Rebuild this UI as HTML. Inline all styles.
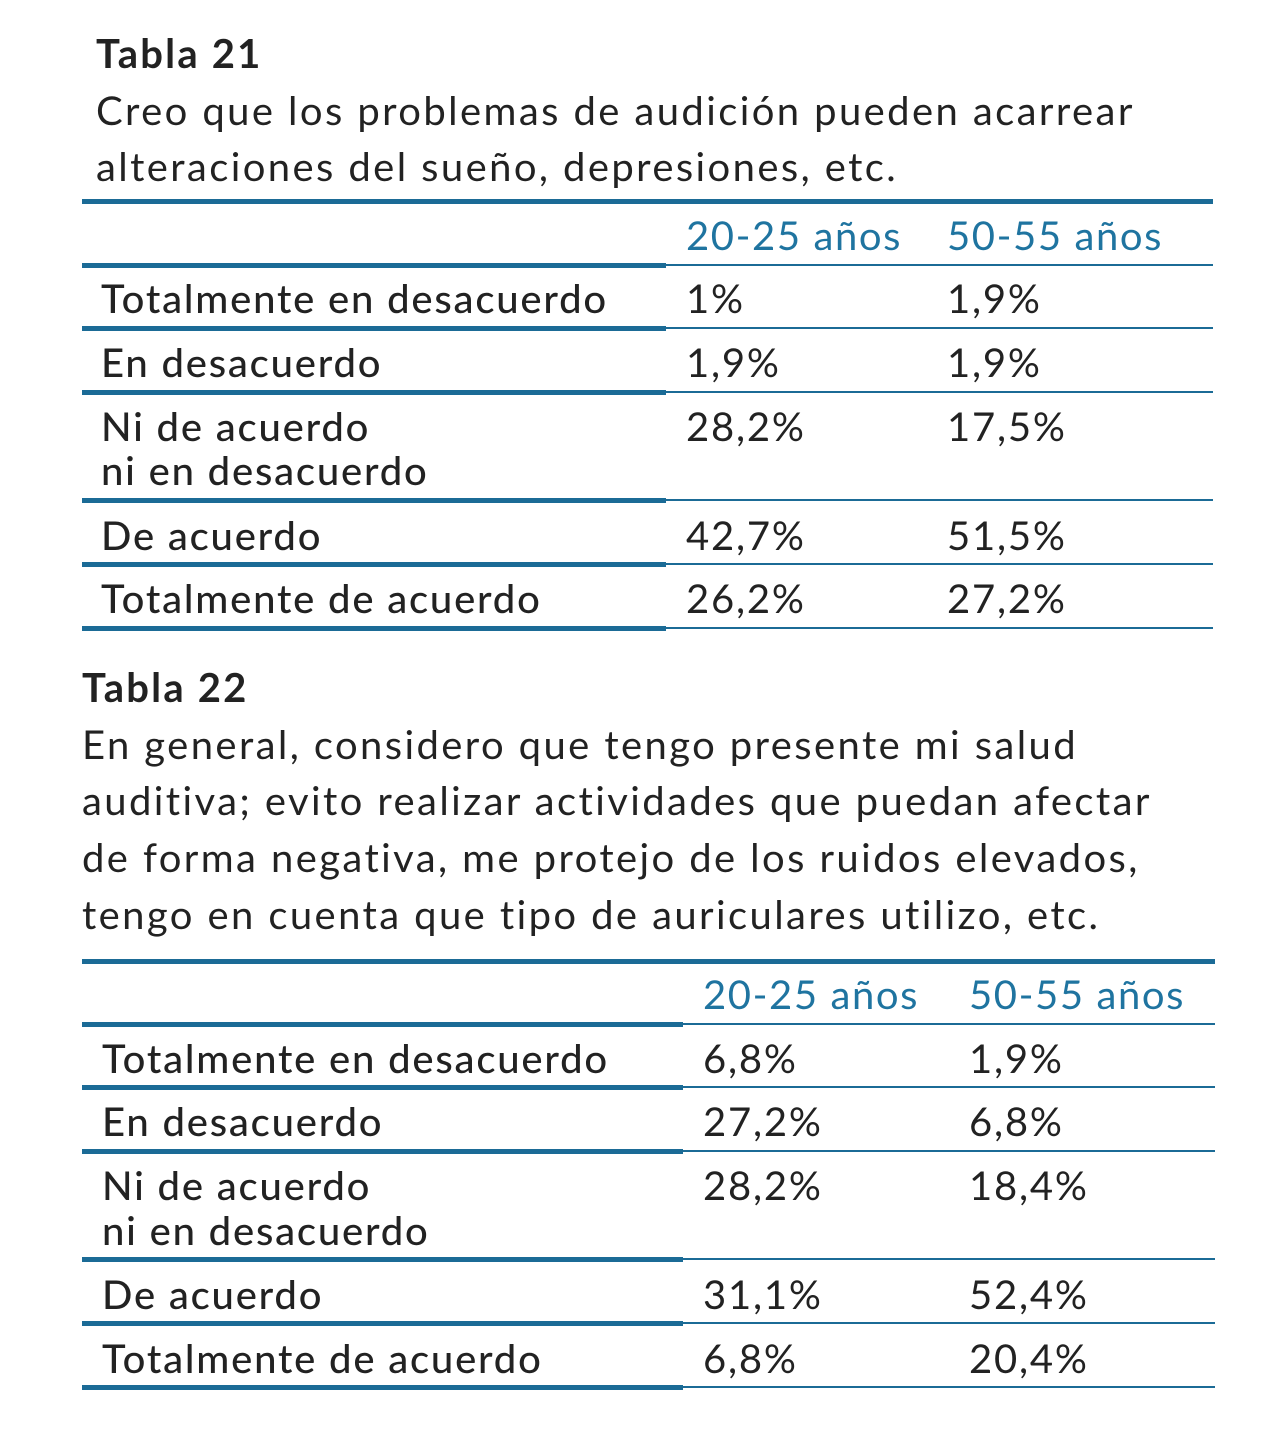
<!DOCTYPE html>
<html><head><meta charset="utf-8"><style>
body{margin:0;width:1281px;height:1452px;background:#fff;position:relative;font-family:"Lato","Liberation Sans",sans-serif;color:#222;overflow:hidden}
.t{position:absolute;font-size:40px;line-height:44px;white-space:nowrap;letter-spacing:1.8px}
.s{letter-spacing:2.4px}
.b{font-weight:bold;letter-spacing:2.2px}
.m{font-weight:500;letter-spacing:1.8px}
.h{color:#1f74a0;letter-spacing:1.6px}
.l{position:absolute;background:#1b6b96}
</style></head><body>
<div class="t b" style="left:96px;top:31px">Tabla 21</div>
<div class="t s" style="left:96px;top:88px">Creo que los problemas de audición pueden acarrear</div>
<div class="t s" style="left:96px;top:144px">alteraciones del sueño, depresiones, etc.</div>
<div class="l" style="left:82px;top:199px;width:1131px;height:5px"></div>
<div class="t h" style="left:686px;top:213px">20-25 años</div>
<div class="t h" style="left:947px;top:213px">50-55 años</div>
<div class="l" style="left:82px;top:263px;width:584px;height:5px"></div><div class="l" style="left:666px;top:264px;width:547px;height:2px"></div>
<div class="t m" style="left:101px;top:276px">Totalmente en desacuerdo</div><div class="t" style="left:686px;top:276px">1%</div><div class="t" style="left:947px;top:276px">1,9%</div>
<div class="l" style="left:82px;top:326px;width:584px;height:5px"></div><div class="l" style="left:666px;top:327px;width:547px;height:2px"></div>
<div class="t m" style="left:101px;top:340px">En desacuerdo</div><div class="t" style="left:686px;top:340px">1,9%</div><div class="t" style="left:947px;top:340px">1,9%</div>
<div class="l" style="left:82px;top:390px;width:584px;height:5px"></div><div class="l" style="left:666px;top:391px;width:547px;height:2px"></div>
<div class="t m" style="left:101px;top:404px">Ni de acuerdo</div><div class="t m" style="left:101px;top:448px">ni en desacuerdo</div><div class="t" style="left:686px;top:404px">28,2%</div><div class="t" style="left:947px;top:404px">17,5%</div>
<div class="l" style="left:82px;top:498px;width:584px;height:5px"></div><div class="l" style="left:666px;top:499px;width:547px;height:2px"></div>
<div class="t m" style="left:101px;top:513px">De acuerdo</div><div class="t" style="left:686px;top:513px">42,7%</div><div class="t" style="left:947px;top:513px">51,5%</div>
<div class="l" style="left:82px;top:562px;width:584px;height:5px"></div><div class="l" style="left:666px;top:563px;width:547px;height:2px"></div>
<div class="t m" style="left:101px;top:576px">Totalmente de acuerdo</div><div class="t" style="left:686px;top:576px">26,2%</div><div class="t" style="left:947px;top:576px">27,2%</div>
<div class="l" style="left:82px;top:626px;width:584px;height:5px"></div><div class="l" style="left:666px;top:627px;width:547px;height:2px"></div>

<div class="t b" style="left:82px;top:665px">Tabla 22</div>
<div class="t s" style="left:82px;top:722px">En general, considero que tengo presente mi salud</div>
<div class="t s" style="left:82px;top:778px">auditiva; evito realizar actividades que puedan afectar</div>
<div class="t s" style="left:82px;top:835px">de forma negativa, me protejo de los ruidos elevados,</div>
<div class="t s" style="left:82px;top:892px">tengo en cuenta que tipo de auriculares utilizo, etc.</div>
<div class="l" style="left:82px;top:959px;width:1133px;height:5px"></div>
<div class="t h" style="left:703px;top:972px">20-25 años</div>
<div class="t h" style="left:969px;top:972px">50-55 años</div>
<div class="l" style="left:82px;top:1022px;width:601px;height:5px"></div><div class="l" style="left:683px;top:1023px;width:532px;height:2px"></div>
<div class="t m" style="left:102px;top:1036px">Totalmente en desacuerdo</div><div class="t" style="left:703px;top:1036px">6,8%</div><div class="t" style="left:969px;top:1036px">1,9%</div>
<div class="l" style="left:82px;top:1085px;width:601px;height:5px"></div><div class="l" style="left:683px;top:1086px;width:532px;height:2px"></div>
<div class="t m" style="left:102px;top:1099px">En desacuerdo</div><div class="t" style="left:703px;top:1099px">27,2%</div><div class="t" style="left:969px;top:1099px">6,8%</div>
<div class="l" style="left:82px;top:1149px;width:601px;height:5px"></div><div class="l" style="left:683px;top:1150px;width:532px;height:2px"></div>
<div class="t m" style="left:102px;top:1163px">Ni de acuerdo</div><div class="t m" style="left:102px;top:1208px">ni en desacuerdo</div><div class="t" style="left:703px;top:1163px">28,2%</div><div class="t" style="left:969px;top:1163px">18,4%</div>
<div class="l" style="left:82px;top:1257px;width:601px;height:5px"></div><div class="l" style="left:683px;top:1258px;width:532px;height:2px"></div>
<div class="t m" style="left:102px;top:1272px">De acuerdo</div><div class="t" style="left:703px;top:1272px">31,1%</div><div class="t" style="left:969px;top:1272px">52,4%</div>
<div class="l" style="left:82px;top:1321px;width:601px;height:5px"></div><div class="l" style="left:683px;top:1322px;width:532px;height:2px"></div>
<div class="t m" style="left:102px;top:1336px">Totalmente de acuerdo</div><div class="t" style="left:703px;top:1336px">6,8%</div><div class="t" style="left:969px;top:1336px">20,4%</div>
<div class="l" style="left:82px;top:1385px;width:601px;height:5px"></div><div class="l" style="left:683px;top:1386px;width:532px;height:2px"></div>
</body></html>
